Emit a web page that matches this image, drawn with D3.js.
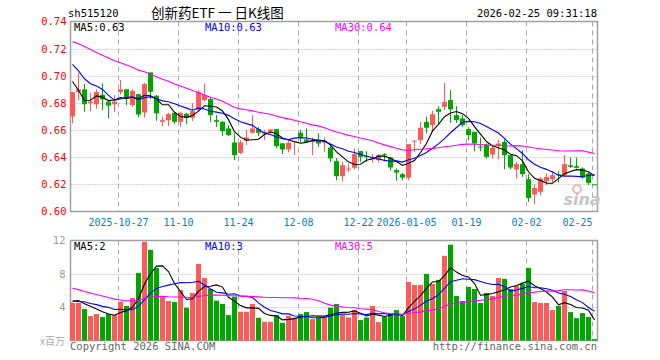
<!DOCTYPE html>
<html><head><meta charset="utf-8">
<script src="https://cdn.jsdelivr.net/npm/d3@7"></script>
<style>body{margin:0;background:#fff}svg{display:block}</style>
</head><body><svg id="c" width="660" height="360"></svg>
<script>
// ---------- data ----------
const dates = [
"2025-10-15","2025-10-16","2025-10-17","2025-10-20","2025-10-21","2025-10-22","2025-10-23","2025-10-24","2025-10-27","2025-10-28",
"2025-10-29","2025-10-30","2025-10-31","2025-11-03","2025-11-04","2025-11-05","2025-11-06","2025-11-07","2025-11-10","2025-11-11",
"2025-11-12","2025-11-13","2025-11-14","2025-11-17","2025-11-18","2025-11-19","2025-11-20","2025-11-21","2025-11-24","2025-11-25",
"2025-11-26","2025-11-27","2025-11-28","2025-12-01","2025-12-02","2025-12-03","2025-12-04","2025-12-05","2025-12-08","2025-12-09",
"2025-12-10","2025-12-11","2025-12-12","2025-12-15","2025-12-16","2025-12-17","2025-12-18","2025-12-19","2025-12-22","2025-12-23",
"2025-12-24","2025-12-25","2025-12-26","2025-12-29","2025-12-30","2025-12-31","2026-01-05","2026-01-06","2026-01-07","2026-01-08",
"2026-01-09","2026-01-12","2026-01-13","2026-01-14","2026-01-15","2026-01-16","2026-01-19","2026-01-20","2026-01-21","2026-01-22",
"2026-01-23","2026-01-26","2026-01-27","2026-01-28","2026-01-29","2026-01-30","2026-02-02","2026-02-03","2026-02-04","2026-02-05",
"2026-02-06","2026-02-09","2026-02-10","2026-02-11","2026-02-12","2026-02-13","2026-02-24","2026-02-25"];

const open = [0.670,0.688,0.690,0.680,0.679,0.686,0.681,0.679,0.688,0.690,
0.6784,0.6865,0.673,0.7025,0.6853,0.6661,0.6673,0.6727,0.6661,0.672,
0.669,0.6747,0.6821,0.6828,0.6673,0.6661,0.6612,0.6509,0.6432,0.6521,
0.658,0.6607,0.6575,0.6587,0.6607,0.6502,0.6457,0.6513,0.658,0.6531,
0.6513,0.6531,0.6506,0.6472,0.6371,0.626,0.631,0.6322,0.6445,0.6408,
0.6383,0.6378,0.6422,0.6398,0.6305,0.6275,0.625,0.6517,0.6526,0.6661,
0.6636,0.6754,0.6771,0.6821,0.671,0.6686,0.6607,0.6587,0.6478,0.6494,
0.642,0.6484,0.6513,0.6415,0.631,0.6349,0.6238,0.6125,0.6145,0.6223,
0.6238,0.6275,0.6268,0.6341,0.6334,0.6317,0.628,0.620];

const high = [0.688,0.702,0.694,0.6875,0.690,0.6944,0.681,0.6858,0.6968,0.690,
0.690,0.6865,0.6948,0.7025,0.6858,0.6698,0.6727,0.6727,0.6734,0.6727,
0.680,0.6895,0.6944,0.6845,0.671,0.6668,0.6636,0.6575,0.6526,0.660,
0.671,0.6622,0.660,0.6605,0.6607,0.6502,0.652,0.652,0.660,0.6612,
0.6545,0.6575,0.6545,0.6489,0.6395,0.6366,0.6353,0.6465,0.6445,0.6445,
0.6425,0.6422,0.643,0.6403,0.6317,0.6285,0.6496,0.6522,0.6661,0.6698,
0.6742,0.6776,0.6948,0.6894,0.6776,0.671,0.6622,0.6587,0.6545,0.6501,
0.6489,0.6526,0.6531,0.6415,0.6366,0.6452,0.6275,0.6199,0.6255,0.628,
0.6297,0.6297,0.6415,0.6398,0.6398,0.6325,0.6287,0.6201];

const low = [0.665,0.682,0.6735,0.674,0.6757,0.6747,0.6686,0.6735,0.6863,0.6784,
0.677,0.6693,0.6693,0.6828,0.6668,0.6629,0.6629,0.6644,0.6624,0.6644,
0.6666,0.6742,0.6808,0.6661,0.6624,0.6555,0.6555,0.6378,0.6423,0.6489,
0.6575,0.6555,0.6526,0.6575,0.6465,0.6423,0.6435,0.6415,0.6506,0.6506,
0.6415,0.6476,0.644,0.6366,0.6231,0.6223,0.6292,0.631,0.6366,0.6366,
0.6361,0.6361,0.637,0.630,0.6226,0.6231,0.6231,0.644,0.6496,0.6575,
0.6587,0.6648,0.6747,0.6653,0.6653,0.6624,0.6526,0.6444,0.6444,0.6391,
0.6391,0.6383,0.631,0.631,0.6243,0.6255,0.6071,0.6054,0.6118,0.6194,
0.6216,0.6216,0.6255,0.6322,0.6317,0.6241,0.6194,0.6198];

const close = [0.688,0.690,0.679,0.681,0.688,0.6826,0.678,0.681,0.690,0.684,
0.6889,0.6715,0.6939,0.6882,0.6723,0.6673,0.6718,0.6661,0.6727,0.669,
0.674,0.6882,0.6858,0.671,0.6661,0.6592,0.6563,0.6415,0.6509,0.6546,
0.6612,0.658,0.6587,0.6605,0.6482,0.6457,0.6506,0.652,0.655,0.6513,
0.6526,0.6501,0.6521,0.6391,0.626,0.6341,0.6316,0.6423,0.6403,0.6403,
0.6398,0.6415,0.642,0.6324,0.6287,0.625,0.6496,0.6522,0.6617,0.6617,
0.6717,0.6735,0.6808,0.6752,0.6673,0.6636,0.6563,0.6501,0.6476,0.6403,
0.6469,0.6501,0.6415,0.6324,0.6349,0.6275,0.610,0.6174,0.6243,0.6255,
0.6268,0.6273,0.6349,0.6329,0.6322,0.625,0.6211,0.6199];

// volume, millions
const volume = [4.54,4.54,3.78,2.93,3.17,2.81,3.17,3.05,4.66,4.14,
5.10,8.11,11.85,10.88,8.71,5.22,4.74,4.62,6.06,3.94,
5.70,9.20,7.51,6.18,4.78,4.38,3.05,5.26,3.45,3.45,
4.38,2.73,2.25,2.25,3.05,2.13,2.97,2.73,3.17,3.41,
2.57,2.73,2.77,3.94,4.38,3.05,2.77,3.65,2.45,2.77,
4.14,2.21,2.85,3.25,3.65,2.93,7.03,6.67,6.67,7.99,
6.79,7.27,10.16,11.49,5.34,4.74,6.43,6.18,4.50,5.70,
5.34,7.51,7.39,6.18,6.55,6.79,8.71,4.62,4.50,4.50,
3.65,4.14,5.94,3.41,2.69,3.29,2.81,0.16];

// sessions before the visible window (estimated), used only for moving averages
const priorCloses = [0.735,0.742,0.748,0.752,0.745,0.738,0.741,0.736,0.733,0.739,0.735,0.730,0.742,
0.728,0.722,0.718,0.725,0.716,0.720,0.726,0.738,0.737,0.718,0.705,0.707,0.722,0.717,0.680,0.672];
const priorVolumes = [9.5,10.2,8.4,9.0,7.8,8.6,9.1,7.8,
6.8,5.5,6.2,5.0,6.5,5.8,4.9,6.3,5.6,6.0,5.4,6.3,
5.2,4.1,4.9,4.6,4.9,4.3,5.6,4.5,4.76];

const priceTicks = [0.60,0.62,0.64,0.66,0.68,0.70,0.72,0.74];
const volTicks = [4,8,12];
const tickDates = ["2025-10-27","2025-11-10","2025-11-24","2025-12-08","2025-12-22","2026-01-05","2026-01-19","2026-02-02","2026-02-25"];
const tickLabels = ["2025-10-27","11-10","11-24","12-08","12-22","2026-01-05","01-19","02-02","02-25"];
const maPeriods = [5,10,30];
const maColors = ["#000000","#0000ff","#ff00ff"];

// ---------- drawing ----------
const RED = "#ff5a5a", GREEN = "#00a600", FRAME = "#a0a0a0", GRID = "#a8a8a8";
const MONO = "'DejaVu Sans Mono', 'Liberation Mono', monospace";
const svg = d3.select("#c");

const x = d3.scaleBand().domain(dates).range([69.5, 597.5]).paddingInner(1/6).paddingOuter(1/12);
const cx = d => x(d) + x.bandwidth()/2;
const tx = d => x(d) + 0.5;
const yP = d3.scaleLinear().domain([0.60, 0.74]).range([211.5, 21.5]);
const yV = d3.scaleLinear().domain([0, 12]).range([340.5, 240.5]);

function movingAvg(prior, vals, n) {
  const all = prior.concat(vals), off = prior.length;
  return vals.map((v, i) => d3.mean(all.slice(off + i - n + 1, off + i + 1)));
}
const up = dates.map((d, i) => close[i] >= open[i]);

// header
svg.append("text").attr("x", 68).attr("y", 17).attr("font-family", MONO).attr("font-size", 10.5).attr("fill", "#000").text("sh515120");
svg.append("text").attr("x", 151).attr("y", 18).attr("font-family", "'Noto Sans CJK SC', sans-serif").attr("font-size", 13.5).attr("fill", "#000").text("创新药ETF 一 日K线图");
svg.append("text").attr("x", 597).attr("y", 17).attr("text-anchor", "end").attr("font-family", MONO).attr("font-size", 10.5).attr("fill", "#000").text("2026-02-25 09:31:18");

// panel helper
function panel(y, ticksForGrid, top, bottom) {
  const g = svg.append("g");
  g.selectAll("line.h").data(ticksForGrid).join("line")
    .attr("x1", 70.5).attr("x2", 597.5)
    .attr("y1", d => Math.round(y(d)) + 0.5).attr("y2", d => Math.round(y(d)) + 0.5)
    .attr("stroke", GRID).attr("stroke-dasharray", "1,2");
  g.selectAll("line.v").data(tickDates).join("line")
    .attr("x1", tx).attr("x2", tx).attr("y1", top).attr("y2", bottom)
    .attr("stroke", GRID).attr("stroke-dasharray", "5,4");
  g.append("rect").attr("x", 70.5).attr("y", top).attr("width", 527).attr("height", bottom - top)
    .attr("fill", "none").attr("stroke", FRAME).attr("stroke-width", 1.5);
  return g;
}

// price panel
panel(yP, priceTicks.filter(t => t > 0.60 && t < 0.74), 21.5, 211.5);
const yAxisP = svg.append("g").attr("transform", "translate(70.5,0)")
  .call(d3.axisLeft(yP).tickValues(priceTicks).tickFormat(d3.format(".2f")).tickSize(0).tickPadding(4));
yAxisP.select(".domain").remove();
yAxisP.selectAll("text").attr("fill", "#ff0000").attr("font-family", MONO).attr("font-size", 10.5);

// candles
const cg = svg.append("g");
cg.selectAll("line.w").data(dates).join("line")
  .attr("x1", d => Math.floor(cx(d)) + 0.5).attr("x2", d => Math.floor(cx(d)) + 0.5)
  .attr("y1", (d, i) => yP(high[i])).attr("y2", (d, i) => yP(low[i]))
  .attr("stroke", (d, i) => up[i] ? RED : GREEN).attr("stroke-width", 1);
cg.selectAll("rect").data(dates).join("rect")
  .attr("x", d => x(d)).attr("width", x.bandwidth())
  .attr("y", (d, i) => yP(Math.max(open[i], close[i])))
  .attr("height", (d, i) => Math.max(1, Math.abs(yP(open[i]) - yP(close[i]))))
  .attr("fill", (d, i) => up[i] ? RED : GREEN);

// price MAs
const priceMA = maPeriods.map(n => movingAvg(priorCloses, close, n));
priceMA.forEach((ma, k) => {
  svg.append("path").datum(ma)
    .attr("d", d3.line().x((v, i) => cx(dates[i])).y(v => yP(v)))
    .attr("fill", "none").attr("stroke", maColors[k]).attr("stroke-width", 1.1);
});

// watermark
svg.append("circle").attr("cx", 577).attr("cy", 189).attr("r", 4).attr("fill", "none").attr("stroke", "#f2b4b4").attr("stroke-width", 2);
svg.append("text").attr("x", 582).attr("y", 205).attr("text-anchor", "middle")
  .attr("font-family", "'DejaVu Sans', sans-serif").attr("font-style", "italic").attr("font-weight", "bold")
  .attr("font-size", 16).attr("fill", "#c4c4c4").text("sina");

// price legend
const fmt2 = d3.format(".2f");
["MA5", "MA10", "MA30"].forEach((lab, k) => {
  svg.append("text").attr("x", [74, 205, 335][k]).attr("y", 31).attr("font-family", MONO).attr("font-size", 10.5)
    .attr("fill", maColors[k]).text(lab + ":" + fmt2(priceMA[k][priceMA[k].length - 1]));
});

// date labels
svg.selectAll("text.dl").data(tickDates).join("text")
  .attr("x", d => tx(d))
  .attr("y", 226).attr("text-anchor", (d, i) => i === tickDates.length - 1 ? "end" : "middle")
  .attr("font-family", MONO).attr("font-size", 10).attr("fill", "#0080d0")
  .text((d, i) => tickLabels[i]);

// volume panel
panel(yV, [4, 8], 240.5, 340.5);
const yAxisV = svg.append("g").attr("transform", "translate(70.5,0)")
  .call(d3.axisLeft(yV).tickValues(volTicks).tickFormat(d3.format("d")).tickSize(0).tickPadding(5));
yAxisV.select(".domain").remove();
yAxisV.selectAll("text").attr("fill", "#999").attr("font-family", MONO).attr("font-size", 10.5);
svg.append("text").attr("x", 65).attr("y", 345).attr("text-anchor", "end")
  .attr("font-family", "'Noto Sans CJK SC', sans-serif").attr("font-size", 10).attr("fill", "#aaa").text("x百万");

svg.append("g").selectAll("rect").data(dates).join("rect")
  .attr("x", d => x(d)).attr("width", x.bandwidth())
  .attr("y", (d, i) => yV(volume[i])).attr("height", (d, i) => yV(0) - yV(volume[i]))
  .attr("fill", (d, i) => up[i] ? RED : GREEN);

const volMA = maPeriods.map(n => movingAvg(priorVolumes, volume, n));
volMA.forEach((ma, k) => {
  svg.append("path").datum(ma)
    .attr("d", d3.line().x((v, i) => cx(dates[i])).y(v => yV(v)))
    .attr("fill", "none").attr("stroke", maColors[k]).attr("stroke-width", 1.1);
});
["MA5", "MA10", "MA30"].forEach((lab, k) => {
  svg.append("text").attr("x", [74, 205, 335][k]).attr("y", 250).attr("font-family", MONO).attr("font-size", 10.5)
    .attr("fill", maColors[k]).text(lab + ":" + Math.floor(volMA[k][volMA[k].length - 1]));
});

// footer
svg.append("text").attr("x", 70).attr("y", 350).attr("font-family", MONO).attr("font-size", 10.5).attr("fill", "#666").text("Copyright 2026 SINA.COM");
svg.append("text").attr("x", 597).attr("y", 350).attr("text-anchor", "end").attr("font-family", MONO).attr("font-size", 10.5).attr("fill", "#666").text("http://finance.sina.com.cn");
</script>
</body></html>
